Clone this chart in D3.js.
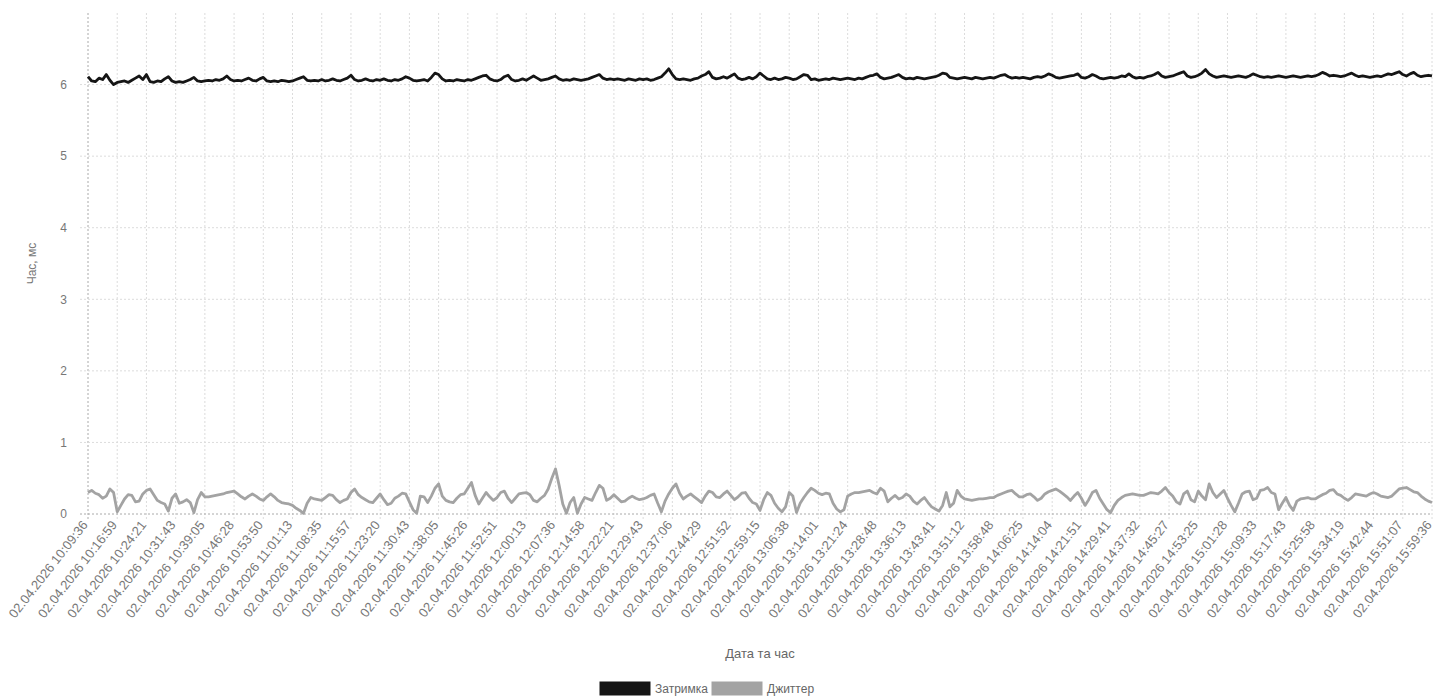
<!DOCTYPE html>
<html>
<head>
<meta charset="utf-8">
<script src="https://cdn.jsdelivr.net/npm/d3@7"></script>
<style>
  html, body { margin: 0; padding: 0; background: #fff; }
  svg { display: block; font-family: "Liberation Sans", Arial, sans-serif; }
</style>
</head>
<body>
<svg id="chart" width="1436" height="697"></svg>
<script>
const tickLabels = [
  "02.04.2026 10:09:36","02.04.2026 10:16:59","02.04.2026 10:24:21","02.04.2026 10:31:43",
  "02.04.2026 10:39:05","02.04.2026 10:46:28","02.04.2026 10:53:50","02.04.2026 11:01:13",
  "02.04.2026 11:08:35","02.04.2026 11:15:57","02.04.2026 11:23:20","02.04.2026 11:30:43",
  "02.04.2026 11:38:05","02.04.2026 11:45:26","02.04.2026 11:52:51","02.04.2026 12:00:13",
  "02.04.2026 12:07:36","02.04.2026 12:14:58","02.04.2026 12:22:21","02.04.2026 12:29:43",
  "02.04.2026 12:37:06","02.04.2026 12:44:29","02.04.2026 12:51:52","02.04.2026 12:59:15",
  "02.04.2026 13:06:38","02.04.2026 13:14:01","02.04.2026 13:21:24","02.04.2026 13:28:48",
  "02.04.2026 13:36:13","02.04.2026 13:43:41","02.04.2026 13:51:12","02.04.2026 13:58:48",
  "02.04.2026 14:06:25","02.04.2026 14:14:04","02.04.2026 14:21:51","02.04.2026 14:29:41",
  "02.04.2026 14:37:32","02.04.2026 14:45:27","02.04.2026 14:53:25","02.04.2026 15:01:28",
  "02.04.2026 15:09:33","02.04.2026 15:17:43","02.04.2026 15:25:58","02.04.2026 15:34:19",
  "02.04.2026 15:42:44","02.04.2026 15:51:07","02.04.2026 15:59:36"
];

const seriesNames = ["Затримка", "Джиттер"];
const yTicks = [0, 1, 2, 3, 4, 5, 6];

const latency = [
  6.11,6.05,6.04,6.09,6.07,6.14,6.06,6.00,
  6.03,6.04,6.05,6.03,6.06,6.09,6.12,6.07,
  6.14,6.04,6.03,6.05,6.04,6.08,6.11,6.05,
  6.03,6.04,6.03,6.05,6.07,6.10,6.05,6.04,
  6.05,6.06,6.05,6.07,6.06,6.08,6.12,6.07,
  6.05,6.06,6.05,6.07,6.09,6.06,6.05,6.08,
  6.10,6.05,6.04,6.05,6.04,6.06,6.05,6.04,
  6.05,6.07,6.09,6.11,6.06,6.05,6.06,6.05,
  6.07,6.05,6.06,6.08,6.06,6.05,6.07,6.09,
  6.13,6.07,6.05,6.06,6.08,6.06,6.05,6.07,
  6.06,6.08,6.06,6.05,6.07,6.06,6.08,6.11,
  6.09,6.06,6.05,6.06,6.07,6.05,6.10,6.16,
  6.14,6.08,6.05,6.06,6.05,6.07,6.06,6.05,
  6.07,6.06,6.08,6.10,6.12,6.13,6.08,6.06,
  6.05,6.07,6.11,6.13,6.07,6.05,6.06,6.08,
  6.06,6.09,6.12,6.09,6.06,6.07,6.08,6.10,
  6.12,6.08,6.06,6.07,6.06,6.08,6.07,6.06,
  6.07,6.08,6.10,6.12,6.14,6.09,6.07,6.08,
  6.07,6.08,6.07,6.06,6.08,6.07,6.06,6.08,
  6.07,6.08,6.06,6.07,6.09,6.11,6.16,6.22,
  6.14,6.08,6.07,6.08,6.07,6.06,6.08,6.09,
  6.12,6.14,6.18,6.10,6.08,6.09,6.11,6.09,
  6.12,6.15,6.09,6.07,6.08,6.10,6.08,6.11,
  6.16,6.12,6.08,6.07,6.09,6.07,6.08,6.10,
  6.09,6.07,6.08,6.11,6.14,6.13,6.07,6.08,
  6.06,6.07,6.08,6.07,6.09,6.08,6.07,6.08,
  6.09,6.08,6.07,6.09,6.08,6.10,6.12,6.13,
  6.15,6.10,6.08,6.09,6.10,6.12,6.14,6.10,
  6.08,6.09,6.08,6.10,6.09,6.08,6.09,6.10,
  6.11,6.13,6.16,6.15,6.10,6.09,6.08,6.09,
  6.10,6.09,6.08,6.10,6.09,6.08,6.09,6.10,
  6.09,6.11,6.13,6.14,6.11,6.09,6.10,6.09,
  6.10,6.09,6.08,6.10,6.11,6.10,6.12,6.15,
  6.13,6.10,6.09,6.10,6.11,6.12,6.13,6.15,
  6.10,6.09,6.11,6.14,6.12,6.09,6.08,6.09,
  6.10,6.09,6.10,6.12,6.11,6.15,6.11,6.09,
  6.10,6.09,6.11,6.12,6.14,6.17,6.12,6.10,
  6.11,6.12,6.14,6.16,6.18,6.12,6.10,6.11,
  6.13,6.16,6.21,6.15,6.12,6.10,6.11,6.12,
  6.11,6.10,6.11,6.12,6.11,6.10,6.12,6.15,
  6.13,6.11,6.10,6.11,6.10,6.11,6.12,6.11,
  6.10,6.11,6.12,6.11,6.10,6.11,6.12,6.11,
  6.12,6.14,6.17,6.15,6.12,6.13,6.12,6.11,
  6.12,6.14,6.16,6.13,6.11,6.12,6.11,6.10,
  6.11,6.12,6.11,6.13,6.15,6.14,6.16,6.18,
  6.14,6.12,6.15,6.17,6.13,6.11,6.12,6.13,
  6.12
];

const jitter = [
  0.30,0.33,0.29,0.27,0.22,0.25,0.35,0.30,
  0.03,0.12,0.21,0.27,0.26,0.17,0.18,0.28,
  0.33,0.35,0.27,0.19,0.16,0.14,0.04,0.22,
  0.28,0.15,0.17,0.20,0.16,0.02,0.20,0.30,
  0.24,0.24,0.25,0.26,0.27,0.28,0.30,0.31,
  0.32,0.28,0.24,0.21,0.25,0.28,0.25,0.21,
  0.19,0.24,0.28,0.24,0.19,0.16,0.15,0.14,
  0.12,0.08,0.05,0.01,0.15,0.23,0.21,0.20,
  0.19,0.23,0.27,0.26,0.20,0.16,0.19,0.21,
  0.30,0.35,0.27,0.23,0.20,0.17,0.16,0.22,
  0.28,0.20,0.13,0.15,0.22,0.25,0.29,0.28,
  0.17,0.06,0.01,0.25,0.24,0.16,0.25,0.36,
  0.42,0.25,0.19,0.17,0.16,0.22,0.27,0.28,
  0.36,0.44,0.26,0.14,0.22,0.30,0.24,0.19,
  0.23,0.30,0.32,0.22,0.16,0.22,0.28,0.29,
  0.30,0.27,0.19,0.17,0.22,0.26,0.35,0.50,
  0.63,0.40,0.14,0.01,0.16,0.23,0.01,0.14,
  0.23,0.21,0.19,0.30,0.40,0.36,0.19,0.22,
  0.27,0.22,0.17,0.18,0.22,0.25,0.22,0.20,
  0.21,0.23,0.26,0.28,0.15,0.03,0.18,0.28,
  0.36,0.42,0.29,0.21,0.25,0.28,0.24,0.20,
  0.16,0.25,0.32,0.30,0.24,0.23,0.28,0.32,
  0.26,0.20,0.24,0.29,0.30,0.22,0.16,0.14,
  0.05,0.20,0.30,0.26,0.15,0.08,0.03,0.10,
  0.30,0.25,0.02,0.15,0.23,0.30,0.36,0.33,
  0.29,0.27,0.29,0.28,0.15,0.07,0.03,0.06,
  0.25,0.28,0.30,0.30,0.31,0.32,0.33,0.30,
  0.28,0.36,0.32,0.17,0.22,0.26,0.21,0.23,
  0.28,0.25,0.18,0.14,0.19,0.23,0.16,0.10,
  0.07,0.04,0.12,0.30,0.10,0.15,0.33,0.25,
  0.21,0.20,0.19,0.20,0.21,0.21,0.22,0.23,
  0.23,0.26,0.28,0.30,0.32,0.33,0.28,0.24,
  0.24,0.27,0.28,0.24,0.19,0.22,0.28,0.31,
  0.33,0.35,0.32,0.28,0.24,0.19,0.25,0.30,
  0.22,0.12,0.20,0.30,0.33,0.22,0.14,0.06,
  0.02,0.12,0.19,0.23,0.26,0.27,0.28,0.27,
  0.26,0.26,0.28,0.30,0.29,0.28,0.32,0.37,
  0.30,0.25,0.17,0.14,0.28,0.32,0.20,0.17,
  0.32,0.25,0.20,0.42,0.30,0.23,0.28,0.33,
  0.22,0.12,0.03,0.15,0.28,0.31,0.32,0.20,
  0.22,0.33,0.34,0.37,0.30,0.28,0.06,0.15,
  0.23,0.12,0.05,0.18,0.21,0.22,0.23,0.21,
  0.21,0.24,0.27,0.29,0.33,0.34,0.28,0.26,
  0.22,0.19,0.23,0.28,0.27,0.26,0.25,0.28,
  0.30,0.28,0.25,0.24,0.23,0.25,0.30,0.35,
  0.36,0.37,0.34,0.31,0.30,0.25,0.21,0.18,
  0.16
];

const colors = ["#151515", "#a3a3a3"];

const svg = d3.select("#chart");
const W = 1436, H = 697;
const m = { left: 88, right: 4, top: 13, bottom: 183 };
const plotW = W - m.left - m.right, plotH = H - m.top - m.bottom;

const n = latency.length;
const step = (n - 1) / (tickLabels.length - 1);
const tickIdx = tickLabels.map((_, k) => k * step);

const x = d3.scaleLinear().domain([0, n - 1]).range([m.left, m.left + plotW]);
const y = d3.scaleLinear().domain([0, 7]).range([m.top + plotH, m.top]);

// grid
const g = svg.append("g");
g.selectAll(".vg").data(tickIdx).join("line")
  .attr("x1", d => x(d)).attr("x2", d => x(d))
  .attr("y1", m.top).attr("y2", m.top + plotH + 6)
  .attr("stroke", (d, i) => i === 0 ? "#aaa" : "#dcdcdc")
  .attr("stroke-width", 1)
  .attr("stroke-dasharray", "2,2");
g.selectAll(".hg").data(yTicks).join("line")
  .attr("x1", m.left - 8).attr("x2", m.left + plotW)
  .attr("y1", d => y(d)).attr("y2", d => y(d))
  .attr("stroke", d => d === 0 ? "#aaa" : "#dcdcdc")
  .attr("stroke-width", 1)
  .attr("stroke-dasharray", "2,2");

// y axis
const yAxis = d3.axisLeft(y).tickValues(yTicks).tickSize(0).tickPadding(0).tickFormat(d3.format("d"));
const ya = svg.append("g").attr("transform", `translate(${m.left - 21},0)`).call(yAxis);
ya.select(".domain").remove();
ya.selectAll("text").attr("fill", "#777").style("font-size", "12px");

svg.append("text")
  .attr("transform", `translate(36,${m.top + plotH / 2}) rotate(-90)`)
  .attr("text-anchor", "middle").attr("fill", "#777").style("font-size", "12px")
  .text("Час, мс");

// x axis
const xAxis = d3.axisBottom(x).tickValues(tickIdx).tickSize(0).tickFormat((d, i) => tickLabels[i]);
const xa = svg.append("g").attr("transform", `translate(0,${m.top + plotH})`).call(xAxis);
xa.select(".domain").remove();
xa.selectAll("text")
  .attr("fill", "#777").style("font-size", "13px")
  .attr("text-anchor", "end")
  .attr("dy", null).attr("y", null)
  .attr("transform", "translate(0,11) rotate(-52)");

svg.append("text")
  .attr("x", m.left + plotW / 2).attr("y", 658)
  .attr("text-anchor", "middle").attr("fill", "#666").style("font-size", "13px")
  .text("Дата та час");

// lines
const series = [latency, jitter];
const line = d3.line().x((d, i) => x(i)).y(d => y(d));
svg.append("g").selectAll("path").data(series).join("path")
  .attr("d", line)
  .attr("fill", "none")
  .attr("stroke", (d, i) => colors[i])
  .attr("stroke-width", 2.8)
  .attr("stroke-linejoin", "round");

// legend
const legendItems = [
  { name: seriesNames[0], color: colors[0], x: 600 },
  { name: seriesNames[1], color: colors[1], x: 712 }
];
const lg = svg.append("g");
legendItems.forEach(it => {
  lg.append("rect").attr("x", it.x).attr("y", 682).attr("width", 50).attr("height", 13)
    .attr("fill", it.color).attr("stroke", it.color);
  lg.append("text").attr("x", it.x + 55).attr("y", 693)
    .attr("fill", "#666").style("font-size", "12px").text(it.name);
});
</script>
</body>
</html>
